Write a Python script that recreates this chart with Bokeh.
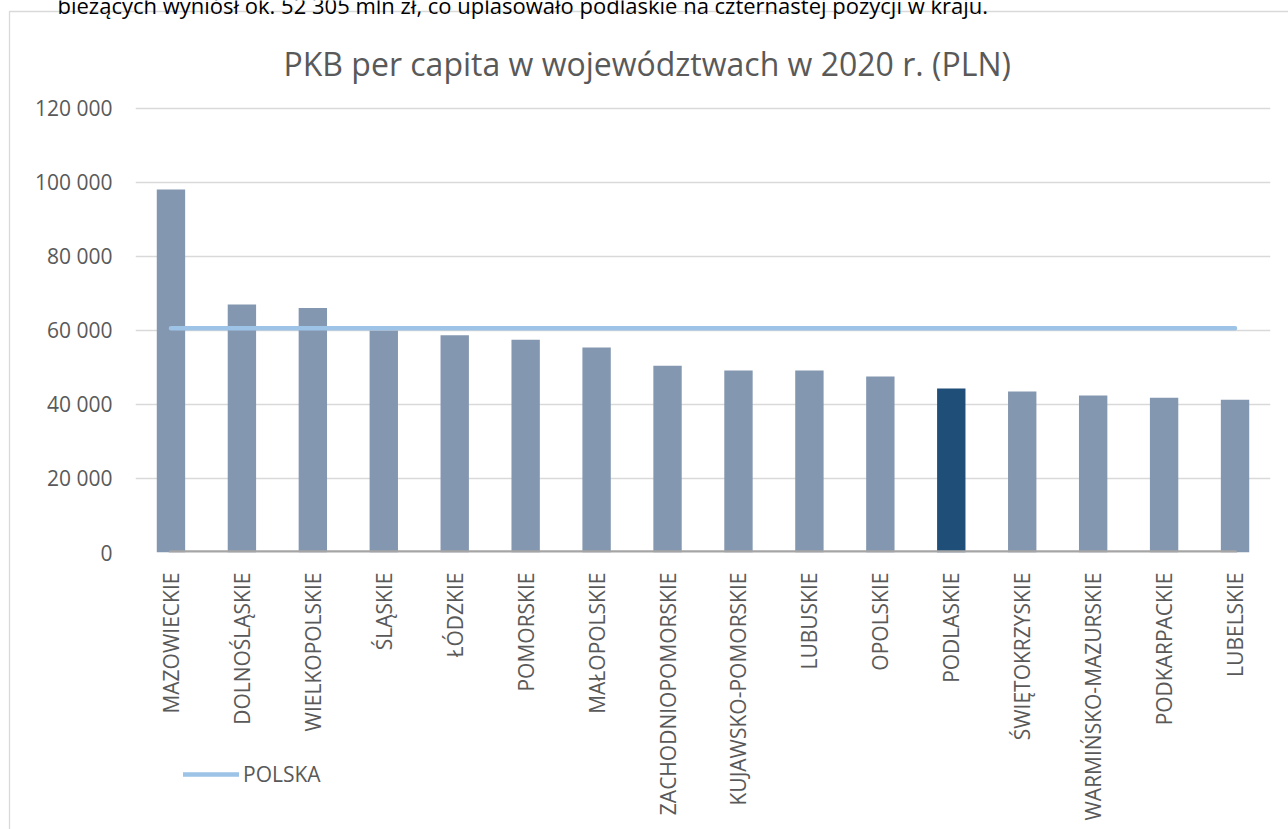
from bokeh.plotting import figure
from bokeh.models import FactorRange, FixedTicker, Legend, LegendItem, Label, Range1d
from bokeh.embed import file_html
from bokeh.resources import INLINE
import math

# ---- data ----
categories = ["MAZOWIECKIE", "DOLNOŚLĄSKIE", "WIELKOPOLSKIE", "ŚLĄSKIE", "ŁÓDZKIE",
              "POMORSKIE", "MAŁOPOLSKIE", "ZACHODNIOPOMORSKIE", "KUJAWSKO-POMORSKIE",
              "LUBUSKIE", "OPOLSKIE", "PODLASKIE", "ŚWIĘTOKRZYSKIE",
              "WARMIŃSKO-MAZURSKIE", "PODKARPACKIE", "LUBELSKIE"]
gdp_per_capita = [98100, 67000, 66100, 60000, 58700, 57500, 55400, 50500, 49200,
                  49200, 47600, 44300, 43500, 42400, 41800, 41300]
polska_value = 60600
polska = [polska_value] * len(categories)
baseline = [0] * len(categories)
highlight = "PODLASKIE"
y_tick_values = [0, 20000, 40000, 60000, 80000, 100000, 120000]
y_tick_labels = ["0", "20 000", "40 000", "60 000", "80 000", "100 000", "120 000"]
title_text = "PKB per capita w województwach w 2020 r. (PLN)"
legend_label = "POLSKA"
top_text = "bieżących wyniósł ok. 52 305 mln zł, co uplasowało podlaskie na czternastej pozycji w kraju."

BAR = "#8497B0"
BAR_HI = "#1F4E79"
LINE = "#9DC3E6"
ZERO = "#A5A5A5"
GRID = "#D9D9D9"
TXT = "#595959"
FONT = "Open Sans"
W, H = 1288, 829

colors = [BAR_HI if c == highlight else BAR for c in categories]

# ---- main chart ----
p = figure(width=W, height=H, output_backend="svg", toolbar_location=None,
           x_range=FactorRange(factors=categories, range_padding=0),
           y_range=(0, 120540),
           min_border_left=135, min_border_right=18, min_border_top=106, min_border_bottom=277)
p.styles = {"position": "absolute", "top": "0px", "left": "0px"}

p.vbar(x=categories, top=gdp_per_capita, width=0.4, fill_color=colors, line_color=None)
p.line(x=categories, y=baseline, line_color=ZERO, line_width=4.5, line_cap="round")
p.line(x=categories, y=polska, line_color=LINE, line_width=4.5, line_cap="round")

p.title.text = title_text
p.title.text_font = FONT
p.title.text_font_size = "32px"
p.title.text_font_style = "normal"
p.title.text_color = TXT
p.title.align = "left"
p.title.offset = 148
p.title.standoff = 43

p.outline_line_color = None
p.background_fill_color = "white"
p.border_fill_color = "white"

p.xgrid.visible = False
p.ygrid.grid_line_color = GRID
p.ygrid.grid_line_width = 1.3

p.yaxis.ticker = FixedTicker(ticks=y_tick_values)
p.yaxis.major_label_overrides = dict(zip(y_tick_values, y_tick_labels))
for ax in (p.xaxis, p.yaxis):
    ax.axis_line_color = None
    ax.major_tick_line_color = None
    ax.minor_tick_line_color = None
    ax.major_label_text_font = FONT
    ax.major_label_text_font_size = "21px"
    ax.major_label_text_color = TXT
p.yaxis.major_label_standoff = 17
p.xaxis.major_label_orientation = math.pi / 2
p.xaxis.major_label_standoff = 14

# ---- overlay in page pixels: chart frame, legend, cut text above ----
q = figure(width=W, height=H, output_backend="svg", toolbar_location=None,
           x_range=Range1d(0, W), y_range=Range1d(H, 0),
           x_axis_type=None, y_axis_type=None, min_border=0, title=None)
q.styles = {"position": "absolute", "top": "0px", "left": "0px"}
q.outline_line_color = None
q.background_fill_color = None
q.border_fill_color = None
q.grid.visible = False

# legend sample (renderer kept outside the visible area; only its legend glyph shows)
leg_r = q.line(x=[-200, -100], y=[-200, -200], line_color=LINE, line_width=4.5, line_cap="round")
legend = Legend(items=[LegendItem(label=legend_label, renderers=[leg_r])],
                location=(183, 41), orientation="vertical",
                glyph_width=56, glyph_height=20, label_standoff=4, padding=0, margin=0,
                border_line_color=None, background_fill_alpha=0,
                label_text_font=FONT, label_text_font_size="21px", label_text_color=TXT)
q.add_layout(legend, "center")

# chart area border (left and top edges visible in the page)
q.line(x=[9, 9, W], y=[H, 11, 11], line_color=GRID, line_width=1.3)

q.add_layout(Label(x=57, y=4, text=top_text, text_font=FONT, text_font_size="22px",
                   text_color="black", text_baseline="alphabetic"))

open("out.html", "w").write(file_html([p, q], INLINE))
